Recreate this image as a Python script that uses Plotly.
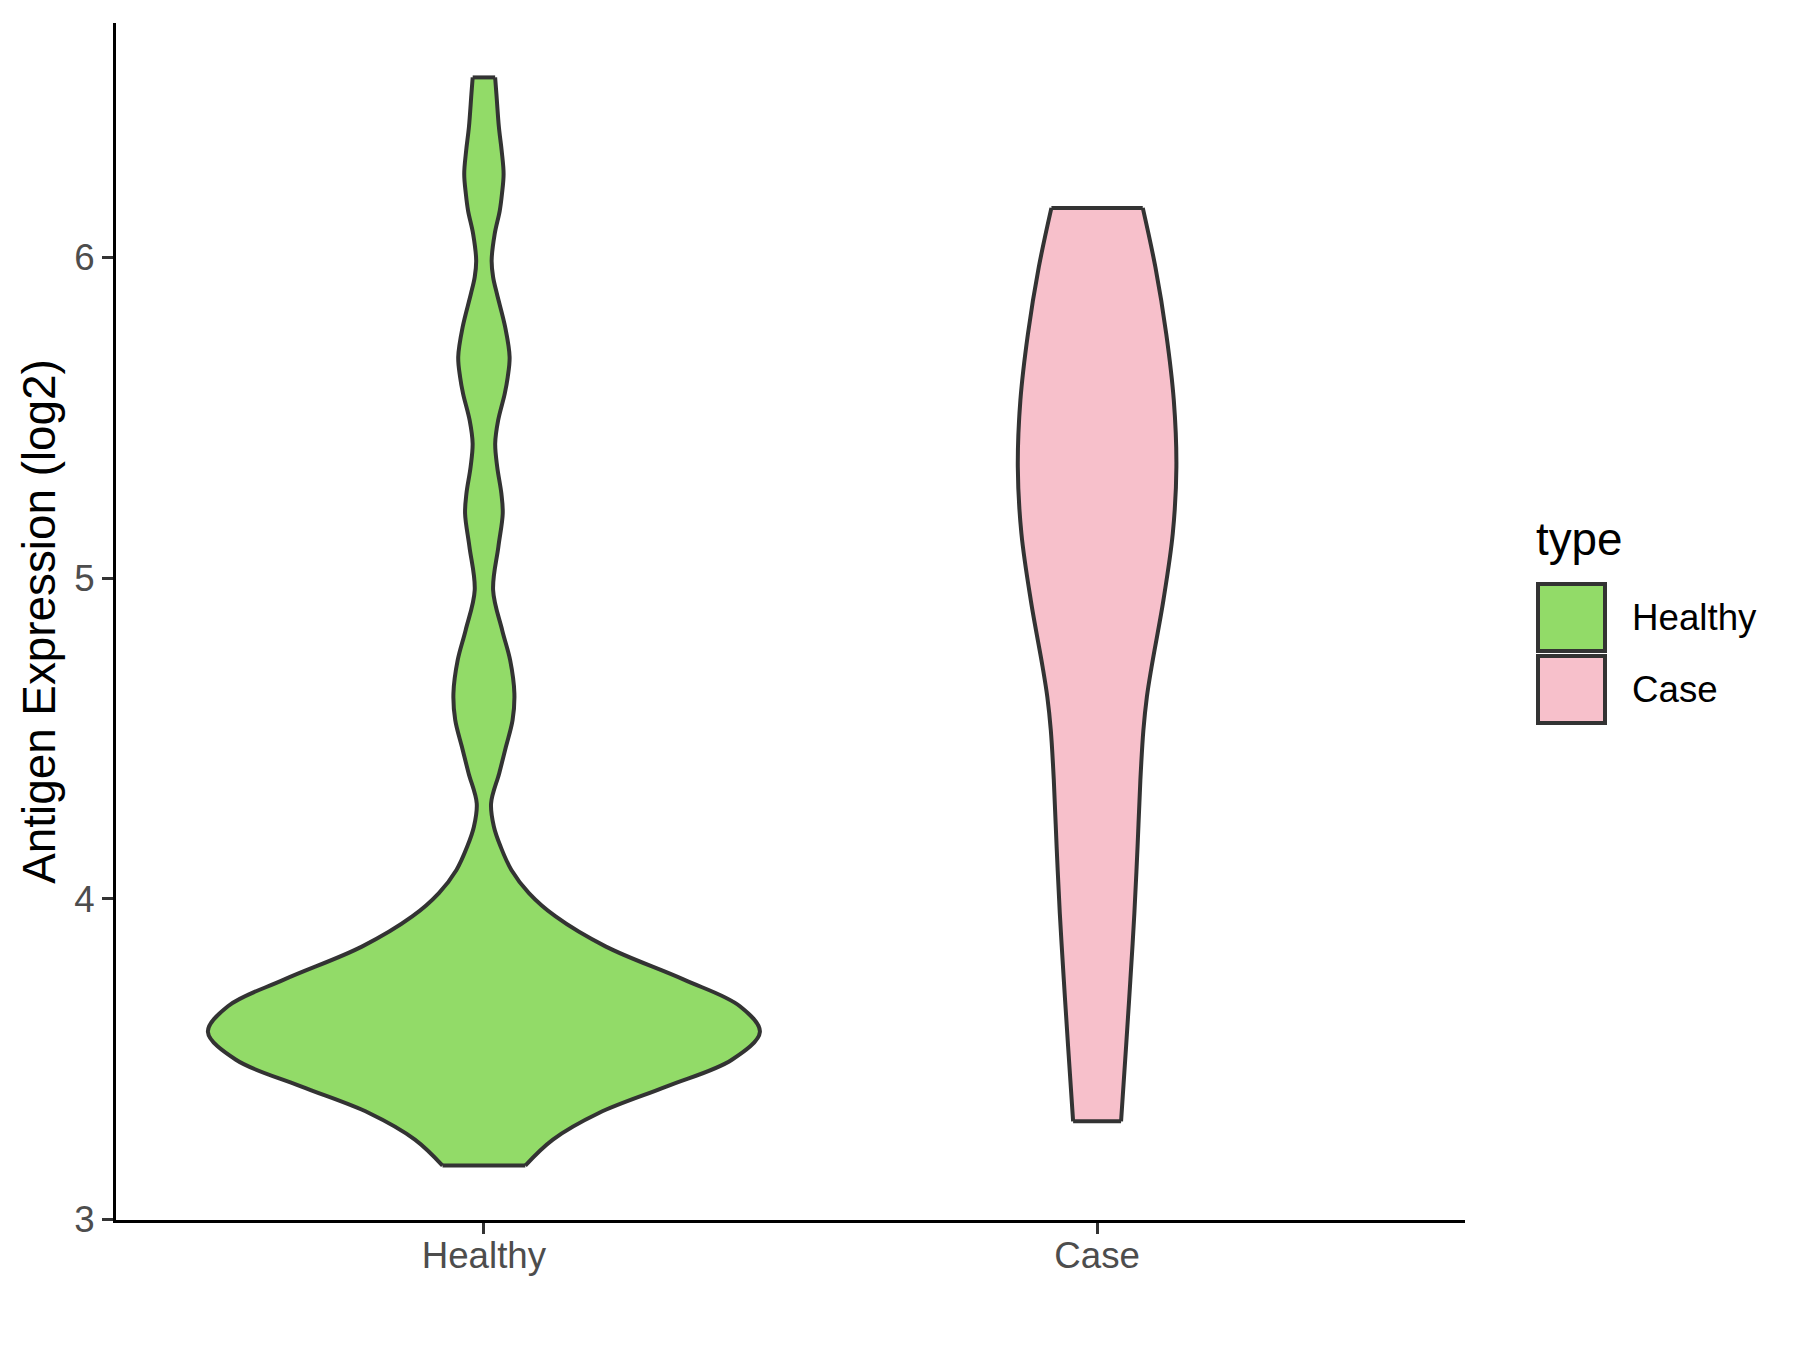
import plotly.graph_objects as go

# ---------------- data ----------------
categories = ["Healthy", "Case"]
fill_colors = ["#92DB68", "#F7C0CB"]

# violin outline profiles: expression value and half-width (in x-axis units)
healthy_y = [3.168, 3.249, 3.332, 3.415, 3.498, 3.585, 3.665, 3.748, 3.851, 3.945,
             4.018, 4.090, 4.163, 4.225, 4.298, 4.392, 4.474, 4.558, 4.641, 4.745,
             4.838, 4.963, 5.098, 5.202, 5.264, 5.347, 5.420, 5.492, 5.575, 5.627,
             5.690, 5.783, 5.887, 5.939, 5.991, 6.074, 6.146, 6.198, 6.261, 6.333,
             6.406, 6.510, 6.562]
healthy_halfwidth = [0.0675, 0.1125, 0.1875, 0.2984, 0.4044, 0.4501, 0.4175, 0.3262, 0.1990, 0.1169,
                     0.0734, 0.0448, 0.0272, 0.0163, 0.0117, 0.0250, 0.0359, 0.0468, 0.0497, 0.0427,
                     0.0298, 0.0150, 0.0236, 0.0307, 0.0285, 0.0217, 0.0184, 0.0232, 0.0339, 0.0388,
                     0.0419, 0.0347, 0.0212, 0.0150, 0.0126, 0.0176, 0.0258, 0.0294, 0.0321, 0.0290,
                     0.0245, 0.0204, 0.0183]

case_y = [3.306, 3.540, 3.748, 3.955, 4.163, 4.371, 4.526, 4.630, 4.724, 4.931,
          5.139, 5.347, 5.555, 5.762, 5.970, 6.155]
case_halfwidth = [0.0391, 0.0473, 0.0543, 0.0608, 0.0660, 0.0706, 0.0755, 0.0812, 0.0889, 0.1081,
                  0.1234, 0.1293, 0.1251, 0.1128, 0.0951, 0.0745]

y_ticks = [3, 4, 5, 6]
y_title = "Antigen Expression (log2)"
legend_title = "type"

profiles = {"Healthy": (healthy_y, healthy_halfwidth),
            "Case": (case_y, case_halfwidth)}

# ---------------- styles ----------------
OUTLINE = "#333333"
LW = 4
FONT = "Liberation Sans, Arial, Helvetica, sans-serif"
W, H = 1800, 1350
ML, MR, MT, MB = 116, 335, 23, 130

fig = go.Figure()

# sides of each violin, the right side filled towards the left side
for i, cat in enumerate(categories):
    ys, hws = profiles[cat]
    c = i + 1
    fig.add_trace(go.Scatter(
        x=[c - w for w in hws], y=ys, mode="lines",
        line=dict(color=OUTLINE, width=LW, shape="spline", smoothing=1),
        showlegend=False, hoverinfo="skip"))
    fig.add_trace(go.Scatter(
        x=[c + w for w in hws], y=ys, mode="lines", fill="tonextx",
        fillcolor=fill_colors[i],
        line=dict(color=OUTLINE, width=LW, shape="spline", smoothing=1),
        showlegend=False, hoverinfo="skip"))

# flat (trimmed) top and bottom edges
for i, cat in enumerate(categories):
    ys, hws = profiles[cat]
    c = i + 1
    fig.add_trace(go.Scatter(
        x=[c - hws[0], c + hws[0], None, c - hws[-1], c + hws[-1]],
        y=[ys[0], ys[0], None, ys[-1], ys[-1]],
        mode="lines", line=dict(color=OUTLINE, width=LW),
        showlegend=False, hoverinfo="skip"))

# y range like ggplot's 5% expansion
all_y = healthy_y + case_y
span = max(all_y) - min(all_y)
y_range = [min(all_y) - 0.05 * span, max(all_y) + 0.05 * span]

plot_w = W - ML - MR
plot_h = H - MT - MB


def px_to_paper_x(px):
    return (px - ML) / plot_w


def px_to_paper_y(py):
    return (H - MB - py) / plot_h


# manual legend (ggplot-style large keys)
shapes = []
annotations = []
key_x0, key_x1 = 1538, 1605
key_tops = [584, 656]
key_size = 67
for i, cat in enumerate(categories):
    top = key_tops[i]
    shapes.append(dict(type="rect", xref="paper", yref="paper",
                       x0=px_to_paper_x(key_x0), x1=px_to_paper_x(key_x1),
                       y0=px_to_paper_y(top + key_size), y1=px_to_paper_y(top),
                       fillcolor=fill_colors[i], line=dict(color=OUTLINE, width=LW)))
    annotations.append(dict(text=cat, xref="paper", yref="paper",
                            x=px_to_paper_x(1630), y=px_to_paper_y(top + key_size / 2),
                            xanchor="left", yanchor="middle", showarrow=False,
                            font=dict(family=FONT, size=36.7, color="black")))
annotations.append(dict(text=legend_title, xref="paper", yref="paper",
                        x=px_to_paper_x(1534), y=px_to_paper_y(539),
                        xanchor="left", yanchor="middle", showarrow=False,
                        font=dict(family=FONT, size=45.8, color="black")))

fig.update_layout(
    width=W, height=H,
    margin=dict(l=ML, r=MR, t=MT, b=MB, autoexpand=False),
    plot_bgcolor="white", paper_bgcolor="white",
    font=dict(family=FONT),
    showlegend=False,
    shapes=shapes, annotations=annotations,
)
fig.update_xaxes(
    range=[0.4, 2.6], tickmode="array", tickvals=[i + 1 for i in range(len(categories))],
    ticktext=categories, showline=True, linecolor="black", linewidth=3,
    ticks="outside", ticklen=11, tickwidth=3, tickcolor=OUTLINE,
    tickfont=dict(family=FONT, size=36.7, color="#4D4D4D"),
    ticklabelstandoff=-10,
    showgrid=False, zeroline=False, automargin=False,
)
fig.update_yaxes(
    range=y_range, tickmode="array", tickvals=y_ticks, ticktext=[str(t) for t in y_ticks],
    showline=True, linecolor="black", linewidth=3,
    ticks="outside", ticklen=11, tickwidth=3, tickcolor=OUTLINE,
    tickfont=dict(family=FONT, size=36.7, color="#4D4D4D"),
    title=dict(text=y_title, font=dict(family=FONT, size=45.8, color="black"), standoff=5),
    showgrid=False, zeroline=False, automargin=False,
)

fig.write_html("out.html", config={"displayModeBar": False},
               post_script="document.body.style.margin='0px';")
